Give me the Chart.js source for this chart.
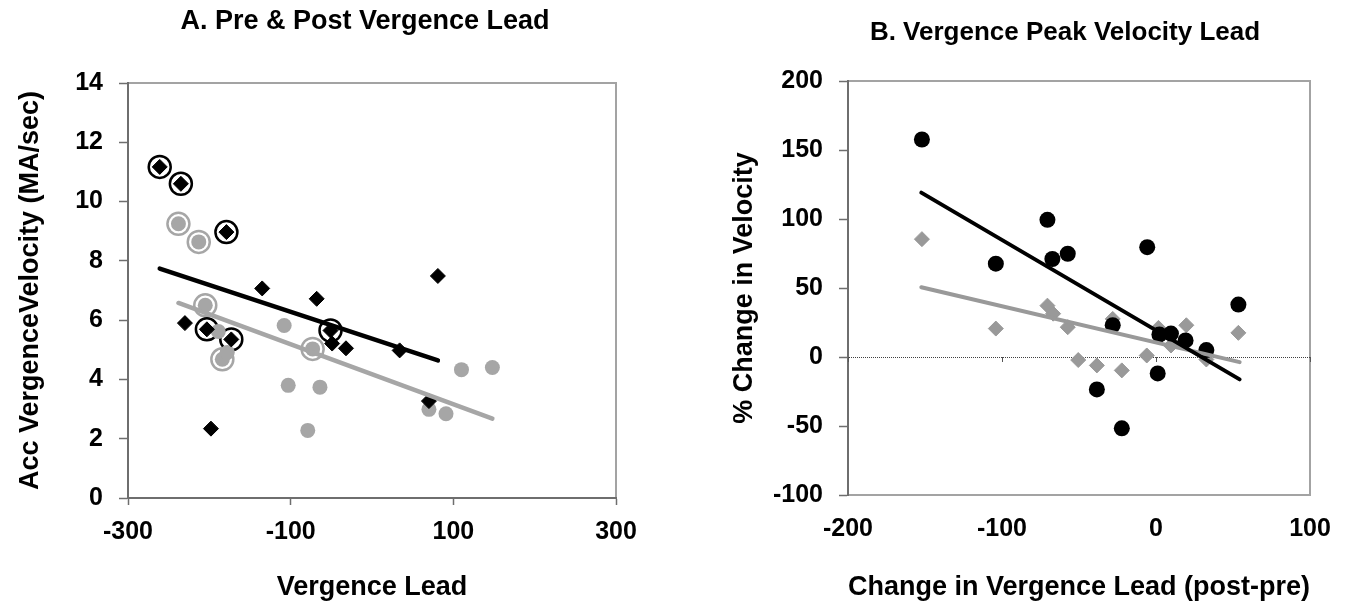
<!DOCTYPE html>
<html>
<head>
<meta charset="utf-8">
<script src="https://cdn.jsdelivr.net/npm/chart.js@4.4.1/dist/chart.umd.min.js"></script>
<style>
html,body{margin:0;padding:0;background:#fff;width:1353px;height:610px;overflow:hidden;}
#wrap{position:relative;width:1353px;height:610px;}
canvas{position:absolute;top:0;}
#cA{left:0;}
#cB{left:676px;}
.ttl{position:absolute;font:bold 27px "Liberation Sans",Arial,sans-serif;color:#000;white-space:nowrap;transform:translate(-50%,-50%);}
</style>
</head>
<body>
<div id="wrap">
<canvas id="cA" width="676" height="610"></canvas>
<canvas id="cB" width="677" height="610"></canvas>
<div class="ttl" style="left:365px;top:20px">A. Pre &amp; Post Vergence Lead</div>
<div class="ttl" style="left:1065px;top:31px;font-size:26px">B. Vergence Peak Velocity Lead</div>
</div>
<script>
// ---------- Panel A data ----------
const aXTicks = [-300, -100, 100, 300];
const aYTicks = [0, 2, 4, 6, 8, 10, 12, 14];
const preX  = [-261, -235, -179, -230, -203, -173, -198, -135, -68, -51, -49, -32, 34, 81, 70];
const preY  = [11.17, 10.60, 8.97, 5.90, 5.69, 5.35, 2.34, 7.07, 6.72, 5.65, 5.21, 5.05, 4.98, 7.49, 3.27];
const postX = [-238, -213, -205, -189, -184, -178, -108, -103, -79, -73, -64, 70, 91, 110, 148];
const postY = [9.25, 8.64, 6.50, 5.62, 4.68, 4.91, 5.82, 3.80, 2.28, 5.03, 3.74, 2.99, 2.84, 4.33, 4.40];
const preRingIdx  = [0, 1, 2, 4, 5, 9];
const postRingIdx = [0, 1, 2, 4, 9];
const preFitX  = [-261, 81];
const preFitY  = [7.74, 4.64];
const postFitX = [-238, 148];
const postFitY = [6.58, 2.68];

// ---------- Panel B data ----------
const bXTicks = [-200, -100, 0, 100];
const bYTicks = [-100, -50, 0, 50, 100, 150, 200];
const velX  = [-152, -104, -70.5, -67.3, -57.3, -5.7, -28.1, -38.4, -22.2, 1.1, 2.2, 9.7, 19.2, 32.7, 53.5];
const velY  = [157.6, 67.6, 99.4, 71.0, 74.8, 79.6, 23.0, -23.5, -51.7, -11.9, 16.3, 17.0, 12.0, 5.0, 38.0];
const leadX = [-152, -104, -70.5, -66.8, -57.3, -50.5, -38.4, -28.1, -22.2, -6.0, 1.6, 9.7, 19.7, 32.7, 53.5];
const leadY = [85.4, 20.6, 37.2, 31.4, 21.6, -2.2, -6.1, 27.6, -9.7, 1.1, 21.1, 8.3, 23.0, -1.8, 17.5];
const velFitX  = [-152.4, 54.3];
const velFitY  = [119.1, -16.2];
const leadFitX = [-152.4, 54.3];
const leadFitY = [50.5, -3.7];

// ---------- helpers ----------
const FAM = '"Liberation Sans", Arial, sans-serif';
const tickFont = {family: FAM, size: 25, weight: 'bold'};
const titleFont = {family: FAM, size: 27, weight: 'bold'};
const AXIS = '#6e6e6e';
const FRAME = '#a3a3a3';
const pts = (xs, ys) => xs.map((x, i) => ({x: x, y: ys[i]}));
const pick = (xs, ys, idx) => idx.map(i => ({x: xs[i], y: ys[i]}));
const setTicks = vals => (s => { s.ticks = vals.map(v => ({value: v})); });

const framePlugin = {
  id: 'frame',
  beforeDraw(chart) {
    const {ctx, chartArea: a} = chart;
    ctx.save();
    ctx.strokeStyle = FRAME;
    ctx.lineWidth = 2;
    ctx.strokeRect(a.left, a.top, a.right - a.left, a.bottom - a.top);
    ctx.restore();
  }
};

const zeroAxisPlugin = {
  id: 'zeroAxis',
  beforeDatasetsDraw(chart) {
    const {ctx} = chart;
    const xs = chart.scales.x, ys = chart.scales.y;
    const y0 = ys.getPixelForValue(0);
    ctx.save();
    ctx.strokeStyle = '#555';
    ctx.lineWidth = 1;
    bXTicks.forEach(v => {
      const px = Math.round(xs.getPixelForValue(v)) + 0.5;
      ctx.beginPath();
      ctx.moveTo(px, y0);
      ctx.lineTo(px, y0 + 5);
      ctx.stroke();
    });
    ctx.restore();
  }
};

// ---------- Chart A ----------
new Chart(document.getElementById('cA'), {
  type: 'scatter',
  data: {
    datasets: [
      {data: pts(preFitX, preFitY), showLine: true, pointRadius: 0, borderColor: '#000', borderWidth: 4.5, borderCapStyle: 'round', fill: false},
      {data: pts(postFitX, postFitY), showLine: true, pointRadius: 0, borderColor: '#a6a6a6', borderWidth: 4.5, borderCapStyle: 'round', fill: false},
      {data: pts(preX, preY), pointStyle: 'rectRot', pointRadius: 7.5, backgroundColor: '#000', borderColor: '#000', borderWidth: 1},
      {data: pts(postX, postY), pointStyle: 'circle', pointRadius: 7.5, backgroundColor: '#a6a6a6', borderColor: '#a6a6a6', borderWidth: 0},
      {data: pick(preX, preY, preRingIdx), pointStyle: 'circle', pointRadius: 11, backgroundColor: '#fff', borderColor: '#000', borderWidth: 2.5},
      {data: pick(postX, postY, postRingIdx), pointStyle: 'circle', pointRadius: 11, backgroundColor: '#fff', borderColor: '#a6a6a6', borderWidth: 2.5}
    ]
  },
  options: {
    responsive: false, animation: false, devicePixelRatio: 1, events: [],
    layout: {padding: {left: 0, right: 60, top: 83, bottom: 0}},
    plugins: {legend: {display: false}, tooltip: {enabled: false}},
    scales: {
      x: {
        type: 'linear', min: -300, max: 300,
        afterBuildTicks: setTicks(aXTicks),
        afterFit: s => { s.height = 112; },
        ticks: {font: tickFont, color: '#000', padding: 12, maxRotation: 0, minRotation: 0, autoSkip: false},
        grid: {drawOnChartArea: false, drawTicks: true, tickLength: 7, tickColor: AXIS, tickWidth: 1.5},
        border: {display: true, color: AXIS, width: 2},
        title: {display: true, text: 'Vergence Lead', font: titleFont, color: '#000', padding: {top: 0, bottom: 6}}
      },
      y: {
        type: 'linear', min: 0, max: 14,
        afterBuildTicks: setTicks(aYTicks),
        afterFit: s => { s.width = 128; },
        ticks: {font: tickFont, color: '#000', padding: 16, autoSkip: false},
        grid: {drawOnChartArea: false, drawTicks: true, tickLength: 9, tickColor: AXIS, tickWidth: 1.5},
        border: {display: true, color: AXIS, width: 2},
        title: {display: true, text: 'Acc VergenceVelocity (MA/sec)', font: titleFont, color: '#000', padding: {top: 14, bottom: 0}}
      }
    }
  },
  plugins: [framePlugin]
});

// ---------- Chart B ----------
new Chart(document.getElementById('cB'), {
  type: 'scatter',
  data: {
    datasets: [
      {data: pts(velFitX, velFitY), showLine: true, pointRadius: 0, borderColor: '#000', borderWidth: 4, borderCapStyle: 'round', fill: false},
      {data: pts(leadFitX, leadFitY), showLine: true, pointRadius: 0, borderColor: '#999999', borderWidth: 4, borderCapStyle: 'round', fill: false},
      {data: pts(velX, velY), pointStyle: 'circle', pointRadius: 8, backgroundColor: '#000', borderColor: '#000', borderWidth: 0},
      {data: pts(leadX, leadY), pointStyle: 'rectRot', pointRadius: 7.5, backgroundColor: '#999999', borderColor: '#999999', borderWidth: 1}
    ]
  },
  options: {
    responsive: false, animation: false, devicePixelRatio: 1, events: [],
    layout: {padding: {left: 0, right: 43, top: 81, bottom: 0}},
    plugins: {legend: {display: false}, tooltip: {enabled: false}},
    scales: {
      x: {
        type: 'linear', min: -200, max: 100,
        afterBuildTicks: setTicks(bXTicks),
        afterFit: s => { s.height = 115; },
        ticks: {font: tickFont, color: '#000', padding: 19, maxRotation: 0, minRotation: 0, autoSkip: false},
        grid: {display: false, drawOnChartArea: false, drawTicks: false},
        border: {display: false},
        title: {display: true, text: 'Change in Vergence Lead (post-pre)', font: titleFont, color: '#000', padding: {top: 0, bottom: 6}}
      },
      y: {
        type: 'linear', min: -100, max: 200,
        afterBuildTicks: setTicks(bYTicks),
        afterFit: s => { s.width = 172; },
        ticks: {font: tickFont, color: '#000', padding: 16, autoSkip: false},
        grid: {
          drawOnChartArea: true, drawTicks: true, tickLength: 9, tickColor: AXIS, tickWidth: 1.5, lineWidth: 1,
          color: c => (c.tick && c.tick.value === 0) ? '#404040' : 'rgba(0,0,0,0)'
        },
        border: {display: true, color: AXIS, width: 2, dash: [1, 1]},
        title: {display: true, text: '% Change in Velocity', font: titleFont, color: '#000', padding: {top: 52, bottom: 0}}
      }
    }
  },
  plugins: [framePlugin, zeroAxisPlugin]
});
</script>
</body>
</html>
